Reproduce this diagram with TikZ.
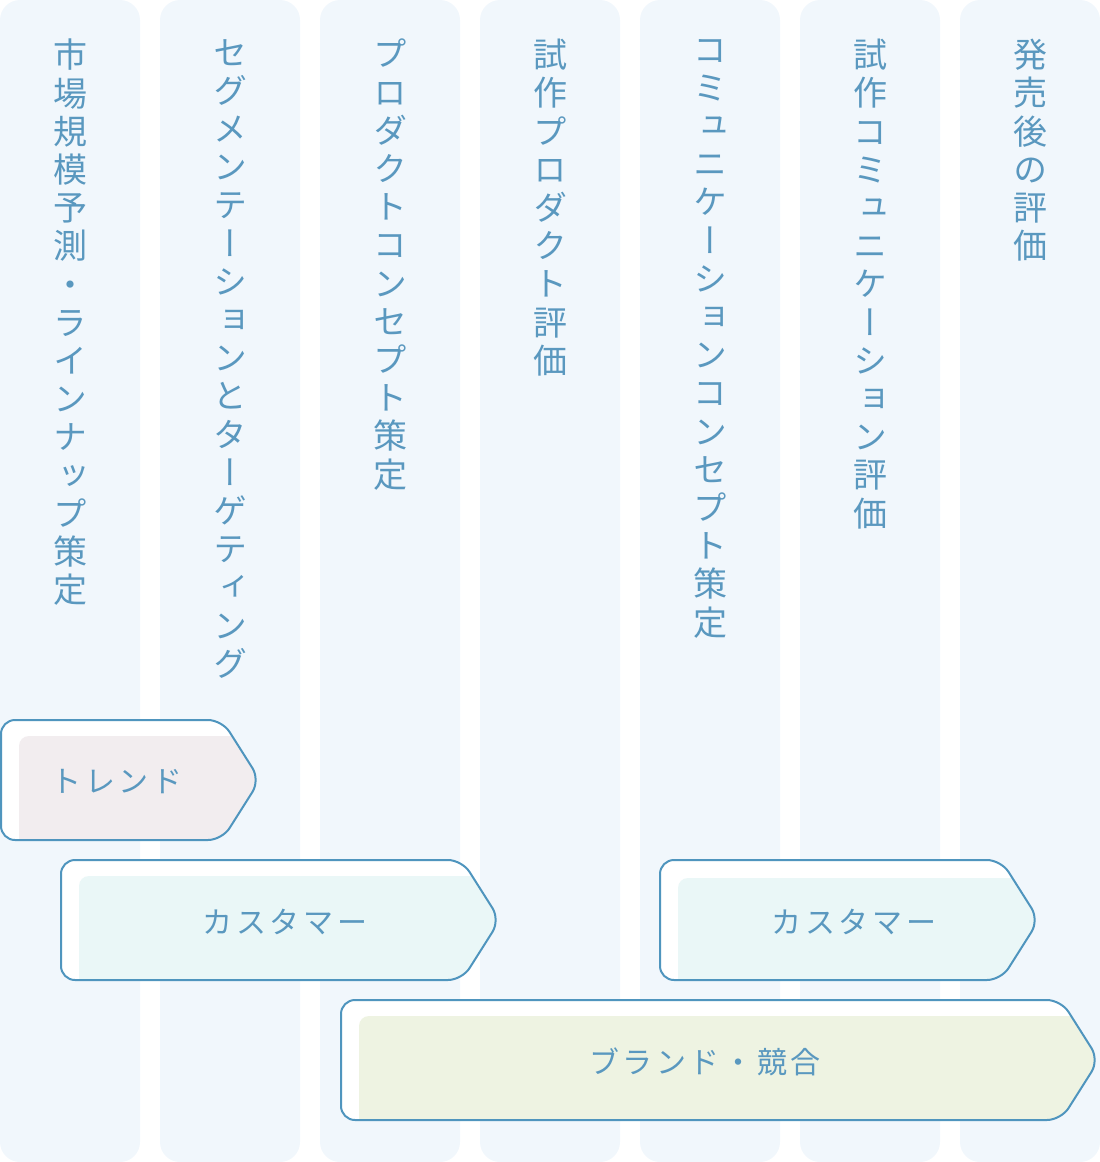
\documentclass[tikz,border=0pt]{standalone}
\usepackage{fontspec}
\newfontfamily\vjp[RawFeature=+vert]{Noto Sans CJK JP}
\newfontfamily\hjp[LetterSpace=12]{Noto Sans CJK JP}
\definecolor{colbg}{HTML}{F1F7FC}
\definecolor{txt}{HTML}{5A98BF}
\definecolor{edge}{HTML}{4F95BE}
\definecolor{fillA}{HTML}{F2EDEF}
\definecolor{fillB}{HTML}{EAF7F7}
\definecolor{fillC}{HTML}{EEF3E2}
\tikzset{
  column/.style={fill=colbg, rounded corners=20},
  vlabel/.style={anchor=north, inner sep=0pt, align=center, text=txt,
    font=\vjp\fontsize{34}{38.2}\selectfont},
  hlabel/.style={inner sep=0pt, text=txt, font=\hjp\fontsize{30}{36}\selectfont},
  arrowline/.style={draw=edge, line width=2pt, rounded corners=14},
}
% #1 L, #2 T, #3 R, #4 B, #5 inner L, #6 inner T, #7 colour
\newcommand\bararrow[7]{%
  \fill[white, rounded corners=14] (#1,#2) -- (#3-38,#2) -- (#3,{(#2+#4)/2}) -- (#3-38,#4) -- (#1,#4) -- cycle;
  \begin{scope}
    \clip[rounded corners=14] (#1,#2) -- (#3-38,#2) -- (#3,{(#2+#4)/2}) -- (#3-38,#4) -- (#1,#4) -- cycle;
    \fill[#7, rounded corners=10] (#5,#4+14) -- (#5,#6) -- (#3+10,#6) -- (#3+10,#4+14) -- cycle;
  \end{scope}
  \draw[arrowline] (#1,#2) -- (#3-38,#2) -- (#3,{(#2+#4)/2}) -- (#3-38,#4) -- (#1,#4) -- cycle;
}
\begin{document}
\begin{tikzpicture}[x=1pt, y=-1pt]
\useasboundingbox (0,0) rectangle (1100,1162);
\foreach \i in {0,...,6} {
  \fill[column] (\i*160,0) rectangle (\i*160+140,1162);
}
\node[vlabel] (c1) at (70,39) {市\\場\\規\\模\\予\\測\\・\\ラ\\イ\\ン\\ナ\\ッ\\プ\\策\\定};
\node[vlabel] (c2) at (230,39) {セ\\グ\\メ\\ン\\テ\\ー\\シ\\ョ\\ン\\と\\タ\\ー\\ゲ\\テ\\ィ\\ン\\グ};
\node[vlabel] (c3) at (390,39) {プ\\ロ\\ダ\\ク\\ト\\コ\\ン\\セ\\プ\\ト\\策\\定};
\node[vlabel] (c4) at (550,39) {試\\作\\プ\\ロ\\ダ\\ク\\ト\\評\\価};
\node[vlabel] (c5) at (710,39) {コ\\ミ\\ュ\\ニ\\ケ\\ー\\シ\\ョ\\ン\\コ\\ン\\セ\\プ\\ト\\策\\定};
\node[vlabel] (c6) at (870,39) {試\\作\\コ\\ミ\\ュ\\ニ\\ケ\\ー\\シ\\ョ\\ン\\評\\価};
\node[vlabel] (c7) at (1030,39) {発\\売\\後\\の\\評\\価};

\bararrow{1}{720}{260}{840}{19}{736}{fillA}
\node[hlabel] (a1) at (117,782) {トレンド};
\bararrow{61}{860}{500}{980}{79}{876}{fillB}
\node[hlabel] (a2) at (285,922) {カスタマー};
\bararrow{660}{860}{1039}{980}{678}{878}{fillB}
\node[hlabel] (a3) at (854,922) {カスタマー};
\bararrow{341}{1000}{1099}{1120}{359}{1016}{fillC}
\node[hlabel] (a4) at (705,1062) {ブランド・競合};
\end{tikzpicture}
\end{document}
